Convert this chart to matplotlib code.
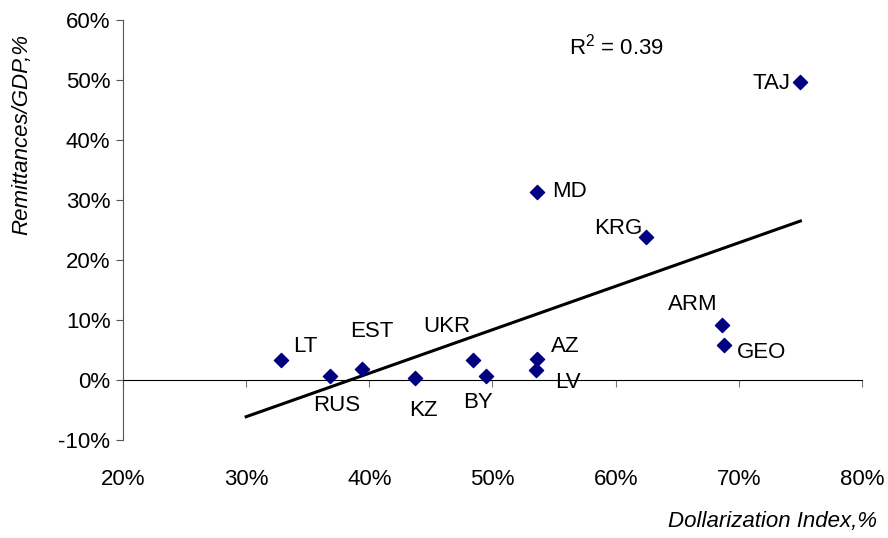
import matplotlib
matplotlib.use("Agg")
import matplotlib.pyplot as plt
import numpy as np

plt.rcParams['font.family'] = ['Liberation Sans', 'DejaVu Sans']
plt.rcParams['mathtext.default'] = 'regular'

# data (fractions)
countries = ["LT", "RUS", "EST", "KZ", "UKR", "BY", "AZ", "LV",
             "MD", "KRG", "TAJ", "ARM", "GEO"]
dollarization = [0.328, 0.368, 0.394, 0.437, 0.484, 0.495, 0.536, 0.535,
                 0.536, 0.625, 0.750, 0.686, 0.688]
remittances = [0.033, 0.006, 0.018, 0.003, 0.034, 0.007, 0.035, 0.017,
               0.314, 0.239, 0.496, 0.091, 0.058]

# label offsets in points and alignment
label_pos = {
    "LT": (9, 10, "left"), "RUS": (5, -21, "center"), "EST": (7, 27, "center"),
    "KZ": (6, -23, "center"), "UKR": (-19, 24, "center"), "BY": (-6, -19, "center"),
    "AZ": (10, 9, "left"), "LV": (14, -9, "left"), "MD": (11, 0, "left"),
    "KRG": (-3, 6, "right"), "TAJ": (-7, -1, "right"), "ARM": (-21, 15, "center"),
    "GEO": (9, -5, "left"),
}

FS = 16

fig = plt.figure(figsize=(8.88, 5.38), dpi=100)
ax = fig.add_axes([0.1385, 0.1822, 0.8322, 0.7806])

x = np.array(dollarization)
y = np.array(remittances)
ax.scatter(x, y, marker="D", s=52, color="#000080", zorder=3)

# linear trend line
coef = np.polyfit(x, y, 1)
xs = np.array([0.30, x.max()])
ax.plot(xs, np.polyval(coef, xs), color="black", lw=2.2)

for name, xi, yi in zip(countries, x, y):
    dx, dy, ha = label_pos[name]
    ax.annotate(name, (xi, yi), xytext=(dx, dy), textcoords="offset points",
                ha=ha, va="center", fontsize=FS)

ax.text(0.562, 0.555, "R$^2$ = 0.39", fontsize=FS, ha="left", va="center")

ax.set_xlim(0.2, 0.8)
ax.set_ylim(-0.1, 0.6)
ax.set_xticks(np.arange(0.2, 0.81, 0.1))
ax.set_yticks(np.arange(-0.1, 0.61, 0.1))
ax.set_xticklabels([f"{v}%" for v in range(20, 81, 10)])
ax.set_yticklabels([f"{v}%" for v in range(-10, 61, 10)])

ax.spines["top"].set_visible(False)
ax.spines["right"].set_visible(False)
ax.spines["bottom"].set_position(("data", 0))
ax.spines["left"].set_color("#555555")
ax.tick_params(axis="x", direction="out", length=5, color="#777777", pad=59, labelsize=FS)
ax.tick_params(axis="y", direction="out", length=5, color="#555555", pad=4, labelsize=FS)

fig.text(0.025, 0.75, "Remittances/GDP,%", rotation=90, ha="center", va="center",
         fontsize=FS, style="italic")
fig.text(0.988, 0.03, "Dollarization Index,%", ha="right", va="center",
         fontsize=FS, style="italic")

fig.savefig("out.png", dpi=100)
